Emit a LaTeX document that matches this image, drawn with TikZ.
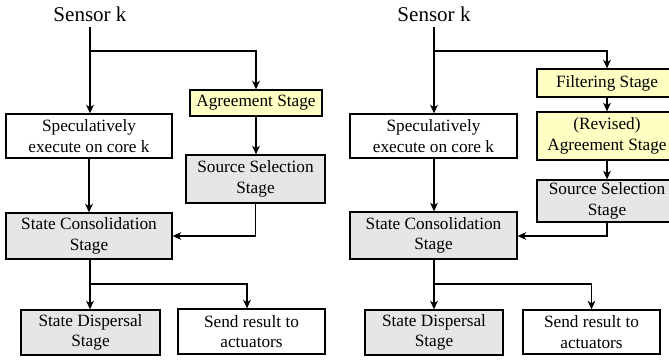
\documentclass[tikz,border=0pt]{standalone}
\usepackage{fontspec}
\setmainfont{Liberation Serif}
\usetikzlibrary{arrows.meta}
\definecolor{stageyellow}{HTML}{FFFFC4}
\definecolor{stagegray}{HTML}{E6E6E6}
\begin{document}
\begin{tikzpicture}[x=0.58pt,y=-0.58pt,
  wh/.style 2 args={minimum width=#1*0.58pt, minimum height=#2*0.58pt},
  box/.style={draw, line width=0.75pt, align=center, inner sep=0pt,
              font=\fontsize{10}{12}\selectfont},
  plainbox/.style={box, fill=white},
  yellowbox/.style={box, fill=stageyellow},
  graybox/.style={box, fill=stagegray},
  sensorlabel/.style={inner sep=0pt, font=\fontsize{12.2}{14}\selectfont},
  flow/.style={line width=0.75pt, -{Stealth[length=5pt,width=4.5pt,inset=1.5pt]}}]
\clip (0,0) rectangle (669,360);
\useasboundingbox (0,0) rectangle (669,360);

% ---------- left flow ----------
\node[sensorlabel, wh={10}{26}] (sensA) at (90,14) {Sensor k};
\node[plainbox, wh={166}{44}] (specA) at (89,136) {Speculatively\\execute on core k};
\node[yellowbox, wh={132}{26}] (agreeA) at (256,103) {Agreement Stage};
\node[graybox, wh={139}{48}] (srcA) at (255.5,179) {Source Selection\\Stage};
\node[graybox, wh={166}{46}] (consA) at (89,236) {State Consolidation\\Stage};
\node[graybox, wh={139}{45}] (dispA) at (90.5,332.5) {State Dispersal\\Stage};
\node[plainbox, wh={147}{45}] (sendA) at (251.5,331.5) {Send result to\\actuators};
\coordinate (forkA1) at (90,51);
\coordinate (forkA2) at (90,284);
\coordinate (sendinA) at (247,0);

\draw[flow] (sensA.south) -- (sensA.south |- specA.north);
\draw[flow] (sensA.south |- forkA1) -| (agreeA.north);
\draw[flow] (agreeA.south) -- (agreeA.south |- srcA.north);
\draw[flow] (specA.south) -- (specA.south |- consA.north);
\draw[flow] (srcA.south) |- (consA.east);
\draw[flow] (consA.south -| forkA2) -- (forkA2 |- dispA.north);
\draw[flow] (forkA2) -| (sendinA |- sendA.north);

% ---------- right flow ----------
\node[sensorlabel, wh={10}{26}] (sensB) at (434,14) {Sensor k};
\node[plainbox, wh={167}{44}] (specB) at (433.5,136) {Speculatively\\execute on core k};
\node[yellowbox, wh={140}{28}] (filtB) at (607,83) {Filtering Stage};
\node[yellowbox, wh={140}{48}] (agreeB) at (607,136) {(Revised)\\Agreement Stage};
\node[graybox, wh={140}{42}] (srcB) at (607,201) {Source Selection\\Stage};
\node[graybox, wh={167}{47}] (consB) at (433.5,235.5) {State Consolidation\\Stage};
\node[graybox, wh={138}{45}] (dispB) at (434,332.5) {State Dispersal\\Stage};
\node[plainbox, wh={137}{44}] (sendB) at (591.5,332) {Send result to\\actuators};
\coordinate (forkB1) at (434,51);
\coordinate (forkB2) at (434,284);
\coordinate (mergeB) at (0,236);

\draw[flow] (sensB.south) -- (sensB.south |- specB.north);
\draw[flow] (sensB.south |- forkB1) -| (filtB.north);
\draw[flow] (filtB.south) -- (agreeB.north);
\draw[flow] (agreeB.south) -- (srcB.north);
\draw[flow] (forkB2 |- specB.south) -- (forkB2 |- consB.north);
\draw[flow] (srcB.south) |- (consB.east |- mergeB);
\draw[flow] (forkB2 |- consB.south) -- (forkB2 |- dispB.north);
\draw[flow] (forkB2) -| (sendB.north);
\end{tikzpicture}
\end{document}
